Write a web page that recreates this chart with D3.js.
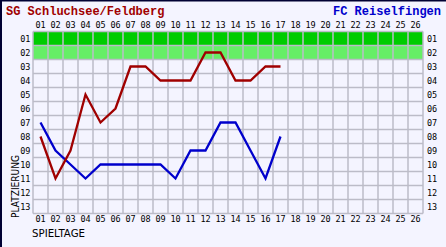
<!DOCTYPE html>
<html>
<head>
<meta charset="utf-8">
<script src="https://cdn.jsdelivr.net/npm/d3@7"></script>
<style>
  body { margin: 0; background: #f4f4ff; }
  svg { display: block; }
</style>
</head>
<body>
<div class="chart"></div>
<script>
(function(){
  // data
  var spieltage   = d3.range(1, 27).map(function(d){ return (d < 10 ? "0" : "") + d; });
  var plaetze     = d3.range(1, 14).map(function(d){ return (d < 10 ? "0" : "") + d; });
  var homeTeam    = "SG Schluchsee/Feldberg";
  var awayTeam    = "FC Reiselfingen";
  var homePlatz   = [8, 11, 9, 5, 7, 6, 3, 3, 4, 4, 4, 2, 2, 4, 4, 3, 3];
  var awayPlatz   = [7, 9, 10, 11, 10, 10, 10, 10, 10, 11, 9, 9, 7, 7, 9, 11, 8];

  var width  = 446,
      height = 247,
      plot   = {left: 33, right: 423, top: 31.5, bottom: 213.5};

  var svg = d3.select(".chart").append("svg")
              .attr("width", width).attr("height", height);

  svg.append("rect").attr("width", width).attr("height", height).attr("fill", "#f4f4ff");

  // band scales for the cells, centers for the lines
  var x = d3.scaleBand().domain(spieltage).range([plot.left, plot.right]);
  var y = d3.scaleBand().domain(plaetze).range([plot.top, plot.bottom]);

  // green promotion rows
  svg.append("rect").attr("x", plot.left).attr("y", y("01"))
     .attr("width", plot.right - plot.left).attr("height", y.bandwidth()).attr("fill", "#00cc00");
  svg.append("rect").attr("x", plot.left).attr("y", y("02"))
     .attr("width", plot.right - plot.left).attr("height", y.bandwidth()).attr("fill", "#66ee66");

  // grid
  var grid = svg.append("g").attr("stroke", "#bcbcc8").attr("stroke-width", 1.5);
  spieltage.forEach(function(d){
    grid.append("line").attr("x1", x(d)).attr("x2", x(d)).attr("y1", plot.top).attr("y2", plot.bottom);
  });
  grid.append("line").attr("x1", plot.right).attr("x2", plot.right).attr("y1", plot.top).attr("y2", plot.bottom);
  plaetze.forEach(function(d){
    grid.append("line").attr("x1", plot.left).attr("x2", plot.right).attr("y1", y(d)).attr("y2", y(d));
  });
  grid.append("line").attr("x1", plot.left).attr("x2", plot.right).attr("y1", plot.bottom).attr("y2", plot.bottom);

  // tick labels
  var ticks = svg.append("g").attr("font-family", "'DejaVu Sans Mono', monospace")
                 .attr("font-size", 8.5).attr("fill", "#000");
  spieltage.forEach(function(d){
    var cx = x(d) + x.bandwidth() / 2;
    ticks.append("text").attr("x", cx).attr("y", 27.5).attr("text-anchor", "middle").text(d);
    ticks.append("text").attr("x", cx).attr("y", 222).attr("text-anchor", "middle").text(d);
  });
  plaetze.forEach(function(d){
    var cy = y(d) + y.bandwidth() / 2 + 3;
    ticks.append("text").attr("x", 30.5).attr("y", cy).attr("text-anchor", "end").text(d);
    ticks.append("text").attr("x", 427).attr("y", cy).text(d);
  });

  // axis titles
  svg.append("text").attr("transform", "translate(19,218) rotate(-90)")
     .attr("font-family", "'DejaVu Sans', sans-serif").attr("font-size", 10)
     .attr("textLength", 63).attr("lengthAdjust", "spacingAndGlyphs").text("PLATZIERUNG");
  svg.append("text").attr("x", 32).attr("y", 237)
     .attr("font-family", "'DejaVu Sans', sans-serif").attr("font-size", 11)
     .attr("textLength", 53).attr("lengthAdjust", "spacingAndGlyphs").text("SPIELTAGE");

  // team names
  svg.append("text").attr("x", 6).attr("y", 15)
     .attr("font-family", "'Liberation Mono', monospace").attr("font-weight", "bold")
     .attr("font-size", 12).attr("fill", "#a00000").text(homeTeam);
  svg.append("text").attr("x", 441).attr("y", 15).attr("text-anchor", "end")
     .attr("font-family", "'Liberation Mono', monospace").attr("font-weight", "bold")
     .attr("font-size", 12).attr("fill", "#0000cc").text(awayTeam);

  // lines
  var line = d3.line()
    .x(function(d, i){ return x(spieltage[i]) + x.bandwidth() / 2; })
    .y(function(d){ return y(plaetze[d - 1]) + y.bandwidth() / 2; });

  svg.append("path").attr("d", line(awayPlatz)).attr("fill", "none")
     .attr("stroke", "#0000cc").attr("stroke-width", 2.3);
  svg.append("path").attr("d", line(homePlatz)).attr("fill", "none")
     .attr("stroke", "#a00000").attr("stroke-width", 2.3);

  // frame
  svg.append("line").attr("x1", 0).attr("x2", width).attr("y1", 0.75).attr("y2", 0.75)
     .attr("stroke", "#000033").attr("stroke-width", 1.5);
  svg.append("line").attr("x1", 1).attr("x2", 1).attr("y1", 0).attr("y2", height)
     .attr("stroke", "#000033").attr("stroke-width", 2);
})()
</script>
</body>
</html>
